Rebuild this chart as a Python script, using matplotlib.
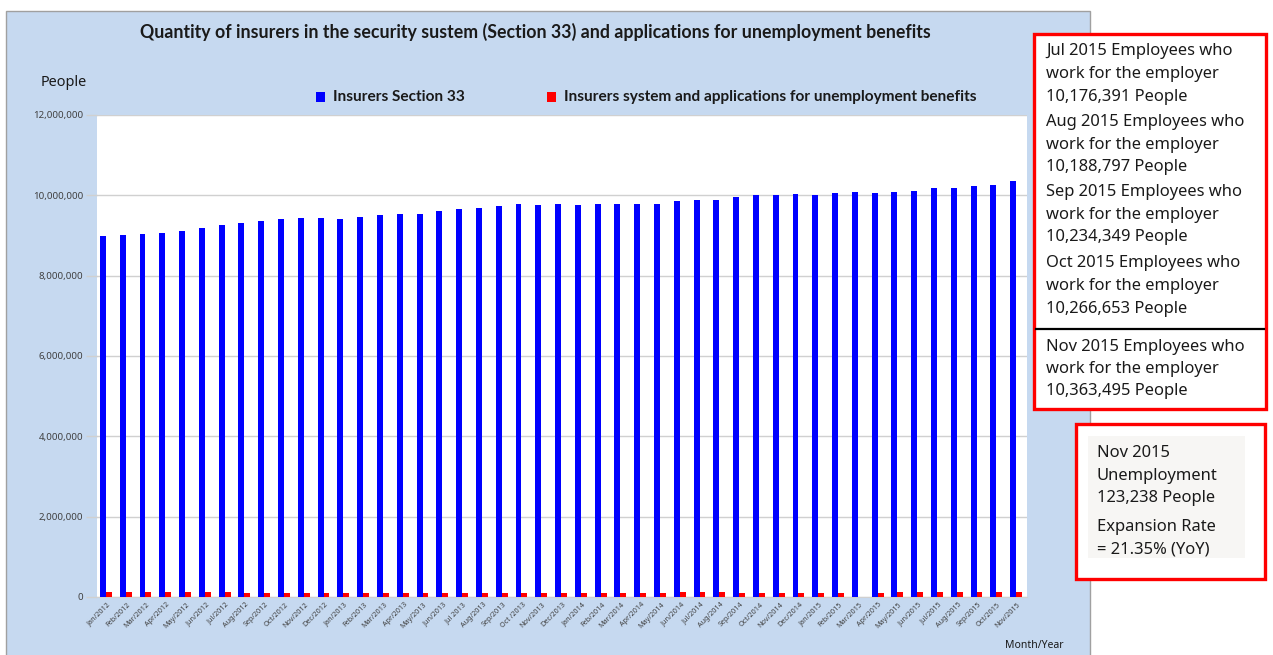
import numpy as np
import matplotlib.pyplot as plt
from matplotlib.patches import Rectangle
from matplotlib.ticker import FuncFormatter

plt.rcParams['font.family'] = ['Noto Sans', 'DejaVu Sans']
BOLD_FONT = ['Lato', 'DejaVu Sans']

months = ["Jan/2012", "Feb/2012", "Mar/2012", "Apr/2012", "May/2012", "Jun/2012",
          "Jul/2012", "Aug/2012", "Sep/2012", "Oct/2012", "Nov/2012", "Dec/2012",
          "Jan/2013", "Feb/2013", "Mar/2013", "Apr/2013", "May/2013", "Jun/2013",
          "Jul 2013", "Aug/2013", "Sep/2013", "Oct /2013", "Nov/2013", "Dec/2013",
          "Jan/2014", "Feb/2014", "Mar/2014", "Apr/2014", "May/2014", "Jun/2014",
          "Jul/2014", "Aug/2014", "Sep/2014", "Oct/2014", "Nov/2014", "Dec/2014",
          "Jan/2015", "Feb/2015", "Mar/2015", "Apr/2015", "May/2015", "Jun/2015",
          "Jul/2015", "Aug/2015", "Sep/2015", "Oct/2015", "Nov/2015"]

insurers_s33 = [9000000, 9020000, 9040000, 9060000, 9110000, 9180000,
                9270000, 9300000, 9360000, 9400000, 9430000, 9430000,
                9400000, 9470000, 9500000, 9530000, 9540000, 9610000,
                9660000, 9690000, 9740000, 9775000, 9770000, 9780000,
                9760000, 9790000, 9790000, 9790000, 9790000, 9860000,
                9880000, 9880000, 9950000, 10000000, 10000000, 10030000,
                10010000, 10070000, 10075000, 10060000, 10075000, 10120000,
                10176391, 10188797, 10234349, 10266653, 10363495]

unemployment_apps = [115000, 120000, 130000, 125000, 130000, 120000,
                     115000, 105000, 100000, 95000, 95000, 95000,
                     100000, 100000, 95000, 100000, 105000, 105000,
                     110000, 105000, 95000, 95000, 90000, 90000,
                     95000, 95000, 100000, 105000, 110000, 115000,
                     125000, 115000, 110000, 105000, 100000, 95000,
                     90000, 90000, 0, 110000, 115000, 125000,
                     120000, 130000, 125000, 120000, 123238]

yticks = [0, 2000000, 4000000, 6000000, 8000000, 10000000, 12000000]

box1_lines = ["Jul 2015 Employees who", "work for the employer", "10,176,391 People",
              "Aug 2015 Employees who", "work for the employer", "10,188,797 People",
              "Sep 2015 Employees who", "work for the employer", "10,234,349 People",
              "Oct 2015 Employees who", "work for the employer", "10,266,653 People",
              "Nov 2015 Employees who", "work for the employer", "10,363,495 People"]
box1_y = [51, 74, 97, 122, 145, 167, 192, 215, 237, 263, 286, 309, 347, 369, 391]

box2_lines = ["Nov 2015", "Unemployment", "123,238 People", "Expansion Rate", "= 21.35% (YoY)"]
box2_y = [453, 476, 498, 527, 549]

W, H = 1273, 655
fig = plt.figure(figsize=(W / 100, H / 100), dpi=100)
fig.patch.set_facecolor('white')


def fx(px):
    return px / W


def fy(py):
    return 1 - py / H


def frect(x0, y0, x1, y1, **kw):
    fig.patches.append(Rectangle((fx(x0), fy(y1)), fx(x1) - fx(x0), fy(y0) - fy(y1),
                                 transform=fig.transFigure, figure=fig, **kw))


# light blue chart panel, drawn behind the axes
frect(6, 11, 1090, 660, facecolor='#c6d9f0', edgecolor='#a0a0a0', linewidth=1, zorder=-5)

ax = fig.add_axes([fx(97), fy(597), fx(1027) - fx(97), fy(115) - fy(597)])
ax.set_zorder(1)
ax.set_facecolor('white')

x = np.arange(len(months))
ax.bar(x - 0.2, insurers_s33, width=0.3, color='#0000ff', zorder=3)
ax.bar(x + 0.1, unemployment_apps, width=0.3, color='#ff0000', zorder=3)

ax.set_xlim(-0.5, len(months) - 0.5)
ax.set_ylim(0, 12000000)
ax.set_yticks(yticks)
ax.yaxis.set_major_formatter(FuncFormatter(lambda v, p: f"{int(v):,}"))
ax.yaxis.grid(True, color='#d0d0d0', linewidth=1, zorder=0)
ax.tick_params(axis='y', labelsize=7, colors='#d0d0d0', labelcolor='#404040',
               length=8, width=1, pad=2)
ax.set_xticks(x)
ax.set_xticklabels(months, rotation=45, ha='right', rotation_mode='anchor',
                   fontsize=5.2, color='#404040')
ax.tick_params(axis='x', length=0, pad=3)
for s in ['top', 'right', 'left']:
    ax.spines[s].set_visible(False)
ax.spines['bottom'].set_color('#d0d0d0')

fig.text(fx(535), fy(32), "Quantity of insurers in the security sustem (Section 33) and applications for unemployment benefits",
         ha='center', va='center', fontsize=12.8, fontweight='bold', family=BOLD_FONT, color='#1a1a1a')
fig.text(fx(64), fy(82), "People", ha='center', va='center', fontsize=10.4, color='#1a1a1a')
fig.text(fx(1034), fy(646), "Month/Year", ha='center', va='center', fontsize=7.5, color='#1a1a1a')

# legend
frect(316, 92, 325, 102, facecolor='#0000ff', edgecolor='none')
fig.text(fx(333), fy(97), "Insurers Section 33", ha='left', va='center', fontsize=11.1,
         fontweight='bold', family=BOLD_FONT, color='#1a1a1a')
frect(547, 92, 556, 102, facecolor='#ff0000', edgecolor='none')
fig.text(fx(564), fy(97), "Insurers system and applications for unemployment benefits",
         ha='left', va='center', fontsize=11.1, fontweight='bold', family=BOLD_FONT, color='#1a1a1a')

# annotation box 1
frect(1034, 34, 1266, 409, facecolor='white', edgecolor='#ff0000', linewidth=2.4, zorder=2)
fig.lines.append(plt.Line2D([fx(1036), fx(1264)], [fy(329), fy(329)],
                            transform=fig.transFigure, color='black', linewidth=1.6, zorder=3))
for txt, yy in zip(box1_lines, box1_y):
    fig.text(fx(1046), fy(yy), txt, ha='left', va='center', fontsize=11.9, color='#1a1a1a', zorder=4)

# annotation box 2
frect(1076, 424, 1265, 579, facecolor='white', edgecolor='#ff0000', linewidth=2.4, zorder=2)
frect(1088, 436, 1245, 558, facecolor='#f7f6f4', edgecolor='none', zorder=3)
for txt, yy in zip(box2_lines, box2_y):
    fig.text(fx(1097), fy(yy), txt, ha='left', va='center', fontsize=11.9, color='#1a1a1a', zorder=4)

fig.savefig('out.png', dpi=100)
